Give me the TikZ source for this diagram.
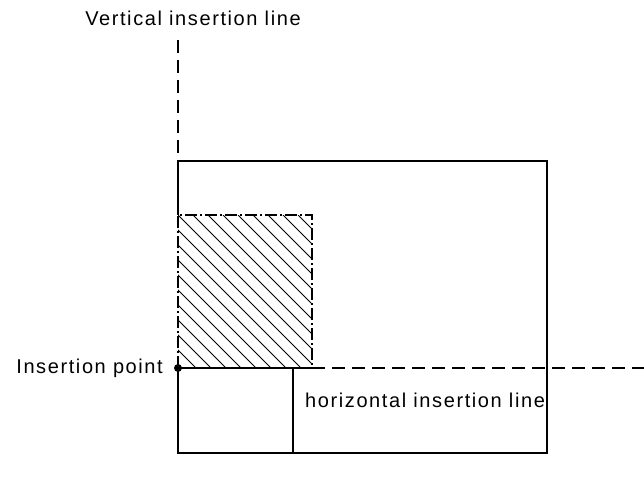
\documentclass[tikz,border=0pt]{standalone}
\usepackage{fontspec}
\setmainfont[LetterSpace=8]{Liberation Sans}
\begin{document}
\begin{tikzpicture}[x=1pt,y=-1pt,
  lbl/.style={inner sep=0pt,font=\fontsize{20}{22}\selectfont},
  solidline/.style={draw=black,line width=1.2pt},
  dashline/.style={draw=black,line width=1.2pt,dash pattern=on 13pt off 7pt},
  dashdotline/.style={draw=black,line width=1.2pt,dash pattern=on 12pt off 3pt on 2pt off 3pt},
  hatchline/.style={draw=black,line width=0.9pt}]
\useasboundingbox (0,0) rectangle (644,481);
% key points
\coordinate (ip) at (178,368);
\coordinate (rtl) at (178,161);
\coordinate (rbr) at (547,453);
% hatched area
\begin{scope}
  \clip (178,215) rectangle (312,368);
  \foreach \k in {-165,-150,...,135} {
    \draw[hatchline] (178+\k,215) -- (178+\k+170,385);
  }
\end{scope}
% big rectangle (left edge partly replaced by hatched outline)
\draw[solidline] (178,215) -- (rtl) -- (547,161) -- (rbr) -- (178,453) -- (ip);
% hatched outline
\draw[dashdotline] (ip) -- (178,215) -- (312,215) -- (312,368);
\draw[solidline] (ip) -- (312,368);
% small rectangle divider
\draw[solidline] (293,368) -- (293,453);
% insertion lines
\draw[dashline] (178,40) -- (rtl);
\draw[dashline] (312,368) -- (644,368);
% insertion point
\fill (ip) circle (4);
% labels
\node[lbl] (vlabel) at (193,18) {Vertical insertion line};
\node[lbl,anchor=east] (plabel) at (163,368) {Insertion point};
\node[lbl,anchor=west] (hlabel) at (305,400) {horizontal insertion line};
\end{tikzpicture}
\end{document}
